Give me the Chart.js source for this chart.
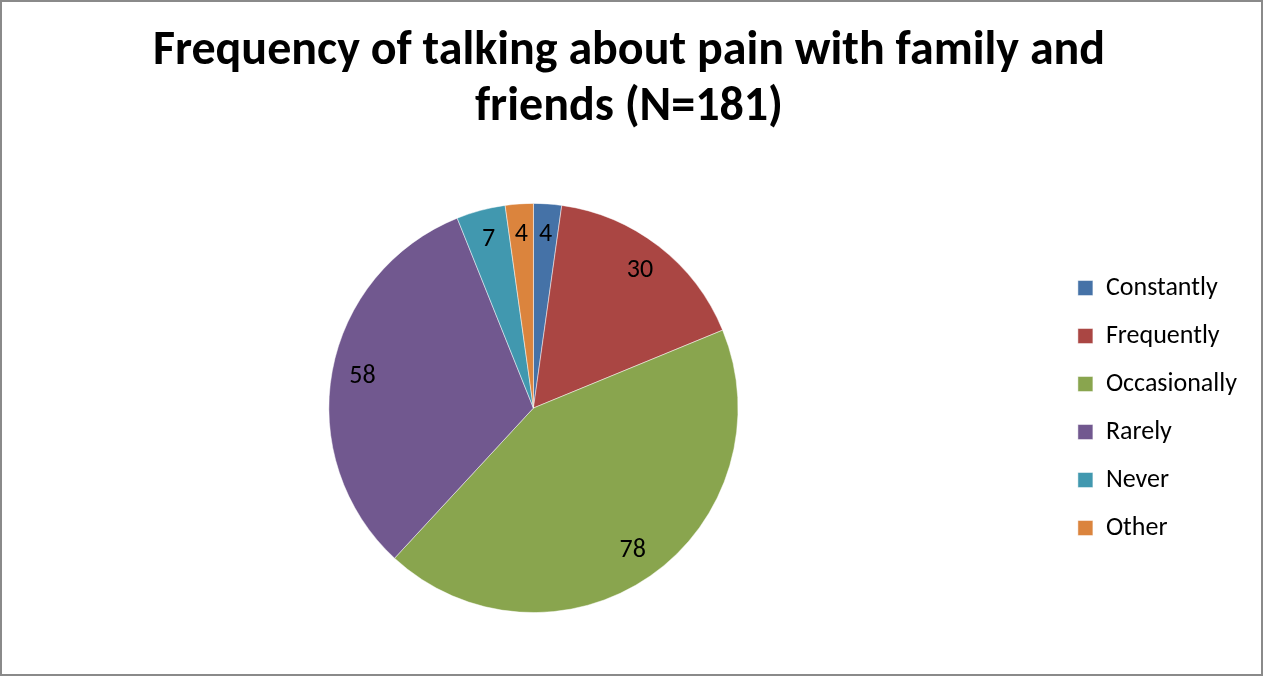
<!DOCTYPE html>
<html lang="en">
<head>
  <meta charset="UTF-8" />
  <title>Frequency of talking about pain</title>
  <style>
    html, body { margin: 0; padding: 0; background: #fff; }
    #wrap { width: 1263px; height: 676px; position: relative; }
  </style>
</head>
<body>
  <div id="wrap"><canvas id="pieChart"></canvas></div>

  <script src="https://cdn.jsdelivr.net/npm/chart.js"></script>
  <script>
    // Datos del gráfico
    const categories = ['Constantly', 'Frequently', 'Occasionally', 'Rarely', 'Never', 'Other'];
    const counts = [4, 30, 78, 58, 7, 4];
    const sliceColors = ['#4572A7', '#AA4643', '#89A54E', '#71588F', '#4198AF', '#DB843D'];
    const titleLines = ['Frequency of talking about pain with family and', 'friends (N=181)'];

    const fontFamily = "Carlito, 'Liberation Sans Narrow', 'Open Sans', sans-serif";

    // Fondo blanco y marco gris
    const frame = {
      id: 'frame',
      beforeDraw(chart) {
        const c = chart.ctx;
        c.save();
        c.fillStyle = '#fff';
        c.fillRect(0, 0, chart.width, chart.height);
        c.restore();
      },
      afterDraw(chart) {
        const c = chart.ctx;
        c.save();
        c.strokeStyle = '#8a8a8a';
        c.lineWidth = 2;
        c.strokeRect(1, 1, chart.width - 2, chart.height - 2);
        c.restore();
      }
    };

    // Etiquetas de valores dentro de cada sector
    const sliceLabels = {
      id: 'sliceLabels',
      afterDatasetsDraw(chart) {
        const c = chart.ctx;
        const meta = chart.getDatasetMeta(0);
        c.save();
        c.fillStyle = '#000';
        c.font = '26px ' + fontFamily;
        c.textAlign = 'center';
        c.textBaseline = 'middle';
        meta.data.forEach((arc, i) => {
          const p = arc.getProps(['x', 'y', 'startAngle', 'endAngle', 'outerRadius'], true);
          const mid = (p.startAngle + p.endAngle) / 2;
          const r = p.outerRadius * 0.85;
          c.fillText(String(counts[i]), p.x + Math.cos(mid) * r, p.y + Math.sin(mid) * r);
        });
        c.restore();
      }
    };

    new Chart(document.getElementById('pieChart'), {
      type: 'pie',
      data: {
        labels: categories,
        datasets: [{
          data: counts,
          backgroundColor: sliceColors,
          borderColor: 'rgba(255,255,255,0.6)',
          borderWidth: 0.8
        }]
      },
      options: {
        responsive: true,
        maintainAspectRatio: false,
        animation: false,
        layout: { padding: { left: 11, right: 16, top: 0, bottom: 63 } },
        plugins: {
          title: {
            display: true,
            text: titleLines,
            color: '#000',
            font: { family: fontFamily, size: 48, weight: 'bold', lineHeight: 1.167 },
            padding: { top: 24, bottom: 67 }
          },
          legend: {
            position: 'right',
            align: 'center',
            fullSize: false,
            labels: {
              boxWidth: 15,
              boxHeight: 15,
              padding: 22,
              color: '#000',
              font: { family: fontFamily, size: 26 }
            }
          },
          tooltip: { enabled: false }
        }
      },
      plugins: [frame, sliceLabels]
    });
  </script>
</body>
</html>
